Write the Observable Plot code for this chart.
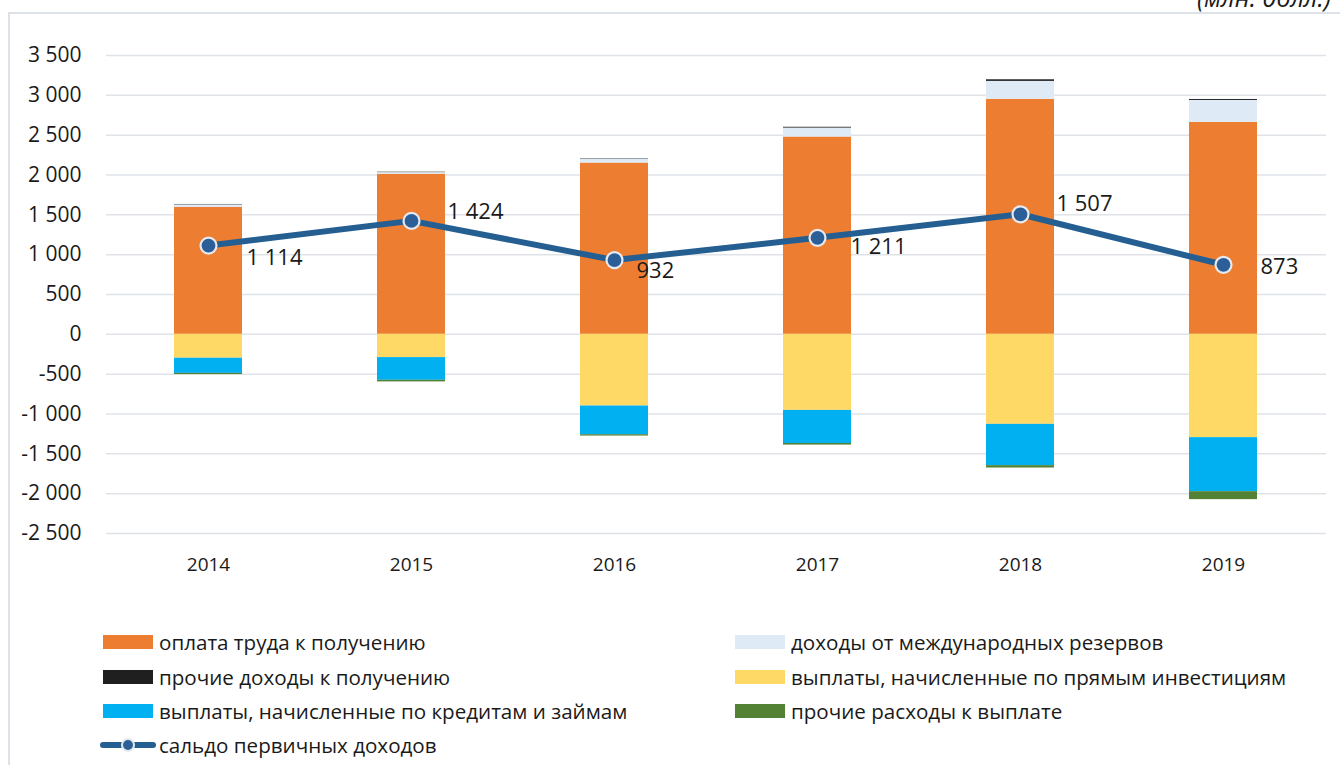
<!DOCTYPE html>
<html>
<head>
<meta charset="utf-8">
<script src="https://cdn.jsdelivr.net/npm/d3@7"></script>
<script src="https://cdn.jsdelivr.net/npm/@observablehq/plot@0.6"></script>
<style>
  html, body { margin: 0; padding: 0; background: #fff; }
  #wrap { position: relative; width: 1340px; height: 765px; overflow: hidden; font-family: "Open Sans", sans-serif; }
  #wrap > svg { position: absolute; left: 0; top: 0; }
</style>
</head>
<body>
<div id="wrap"></div>
<script>
// ---- data ----
const years = ["2014", "2015", "2016", "2017", "2018", "2019"];
const compensationReceived = [1595, 2010, 2150, 2477, 2950, 2661];   // оплата труда к получению
const reserveIncome       = [30, 20, 50, 112, 225, 275];             // доходы от международных резервов
const otherIncome         = [5, 5, 5, 10, 20, 12];                   // прочие доходы к получению
const directInvestment    = [-300, -292, -900, -955, -1130, -1297];  // выплаты по прямым инвестициям
const loansPayments       = [-190, -285, -360, -415, -518, -678];    // выплаты по кредитам и займам
const otherExpenses       = [-15, -20, -17, -20, -30, -100];         // прочие расходы к выплате
const primaryBalance      = [1114, 1424, 932, 1211, 1507, 873];      // сальдо первичных доходов
const yTicks = [-2500, -2000, -1500, -1000, -500, 0, 500, 1000, 1500, 2000, 2500, 3000, 3500];

const seriesNames = [
  "оплата труда к получению",
  "доходы от международных резервов",
  "прочие доходы к получению",
  "выплаты, начисленные по прямым инвестициям",
  "выплаты, начисленные по кредитам и займам",
  "прочие расходы к выплате"
];
const seriesValues = [compensationReceived, reserveIncome, otherIncome, directInvestment, loansPayments, otherExpenses];
const seriesColors = ["#ED7D31", "#DEEBF7", "#1F1F1F", "#FFD966", "#00B0F0", "#548235"];
const lineName = "сальдо первичных доходов";

// ---- build tables ----
const barData = [];
seriesNames.forEach((name, s) => {
  years.forEach((yr, i) => barData.push({year: yr, series: name, value: seriesValues[s][i]}));
});
const lineData = years.map((yr, i) => ({year: yr, value: primaryBalance[i]}));

const fmt = v => d3.format(",")(v).replace(/,/g, " ").replace("−", "-");

// label nudges (layout only)
const nudge = [[38, 12], [36, -9], [22, 11], [33, 9], [36, -10], [37, 2]];

const FONT = "'Open Sans', sans-serif";
const TXT = "#1a1a1a";

const chart = Plot.plot({
  width: 1340,
  height: 600,
  marginTop: 55,
  marginBottom: 67,
  marginLeft: 106,
  marginRight: 14,
  style: {fontFamily: FONT, fontSize: "21px", color: TXT, background: "transparent"},
  x: {domain: years, paddingInner: 0.665, paddingOuter: 0.3325, label: null},
  y: {domain: [-2500, 3500], label: null},
  color: {domain: seriesNames, range: seriesColors},
  marks: [
    Plot.ruleY(yTicks, {stroke: "#dfe3e8", strokeWidth: 1.5}),
    Plot.barY(barData, {x: "year", y: "value", fill: "series", order: seriesNames, inset: 0}),
    Plot.line(lineData, {x: "year", y: "value", stroke: "#255E91", strokeWidth: 6, strokeLinecap: "round", strokeLinejoin: "round"}),
    Plot.dot(lineData, {x: "year", y: "value", r: 8, fill: "#2C5F97", stroke: "#E6E9EE", strokeWidth: 2.2}),
    ...lineData.map((d, i) => Plot.text([d], {
      x: "year", y: "value", text: dd => fmt(dd.value),
      textAnchor: "start", lineAnchor: "middle",
      dx: nudge[i][0], dy: nudge[i][1],
      fill: TXT, fontSize: 22
    })),
    Plot.axisY({ticks: yTicks, tickSize: 0, tickPadding: 25, tickFormat: fmt, label: null, fill: TXT, fontSize: 21}),
    Plot.axisX({tickSize: 0, tickPadding: 24, label: null, fill: TXT, fontSize: 19})
  ]
});
document.getElementById("wrap").appendChild(chart);

// ---- overlay: frame, unit title, legend ----
const ov = d3.select("#wrap").append("svg")
  .attr("width", 1340).attr("height", 765)
  .style("pointer-events", "none");

ov.append("path").attr("d", "M9,765 V13 H1340")
  .attr("fill", "none").attr("stroke", "#dde2e8").attr("stroke-width", 2);

ov.append("text").attr("x", 1331).attr("y", 7).attr("text-anchor", "end")
  .attr("font-family", FONT).attr("font-style", "italic").attr("font-size", 25)
  .attr("fill", TXT).text("(млн. долл.)");

const rowsY = [642, 677, 711, 745];
const legendItems = [
  {col: 0, row: 0, s: 0},
  {col: 1, row: 0, s: 1},
  {col: 0, row: 1, s: 2},
  {col: 1, row: 1, s: 3},
  {col: 0, row: 2, s: 4},
  {col: 1, row: 2, s: 5}
];
const colX = [103, 735];
legendItems.forEach(it => {
  const x = colX[it.col], y = rowsY[it.row];
  ov.append("rect").attr("x", x).attr("y", y - 7).attr("width", 50).attr("height", 14)
    .attr("fill", seriesColors[it.s]);
  ov.append("text").attr("x", x + 56).attr("y", y).attr("dominant-baseline", "central")
    .attr("font-family", FONT).attr("font-size", 20.6).attr("fill", TXT).text(seriesNames[it.s]);
});
// line legend
{
  const x = 103, y = rowsY[3];
  ov.append("line").attr("x1", x).attr("x2", x + 50).attr("y1", y).attr("y2", y)
    .attr("stroke", "#255E91").attr("stroke-width", 6).attr("stroke-linecap", "round");
  ov.append("circle").attr("cx", x + 25).attr("cy", y).attr("r", 6)
    .attr("fill", "#2C5F97").attr("stroke", "#E6E9EE").attr("stroke-width", 2);
  ov.append("text").attr("x", x + 56).attr("y", y).attr("dominant-baseline", "central")
    .attr("font-family", FONT).attr("font-size", 20.6).attr("fill", TXT).text(lineName);
}
</script>
</body>
</html>
